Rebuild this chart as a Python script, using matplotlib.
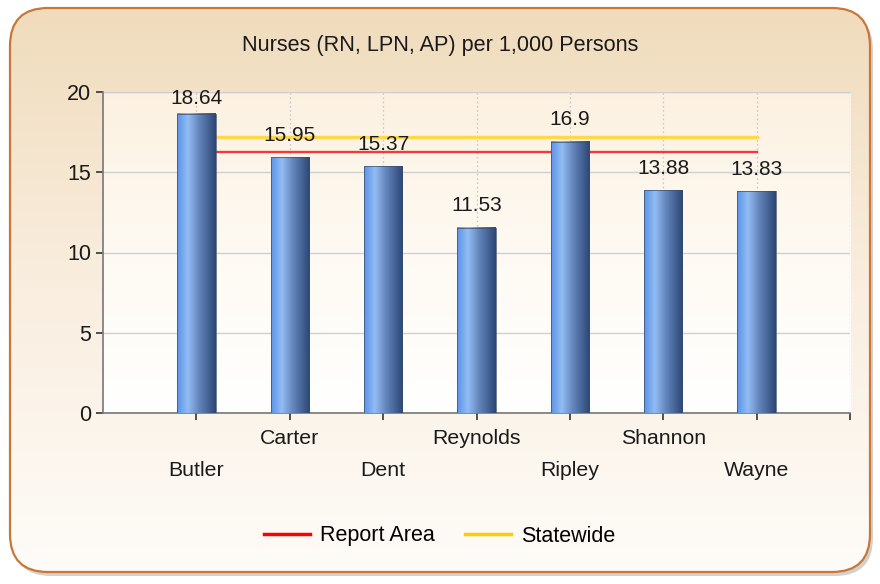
import numpy as np
import matplotlib
matplotlib.use("Agg")
import matplotlib.pyplot as plt
from matplotlib.patches import FancyBboxPatch
from matplotlib.colors import LinearSegmentedColormap
from matplotlib.lines import Line2D

plt.rcParams['font.family'] = ['Liberation Sans', 'DejaVu Sans']

# county values and reference levels
counties = ['Butler', 'Carter', 'Dent', 'Reynolds', 'Ripley', 'Shannon', 'Wayne']
nurses = [18.64, 15.95, 15.37, 11.53, 16.9, 13.88, 13.83]
value_labels = ['18.64', '15.95', '15.37', '11.53', '16.9', '13.88', '13.83']
report_area = 16.27
statewide = 17.2
title = 'Nurses (RN, LPN, AP) per 1,000 Persons'

W, H = 880, 584
fig = plt.figure(figsize=(W / 100, H / 100), dpi=100)
fig.patch.set_facecolor('white')

# outer rounded panel with a soft tan-to-white gradient
bg = fig.add_axes([0, 0, 1, 1], zorder=-5)
bg.set_xlim(0, W)
bg.set_ylim(H, 0)
bg.axis('off')

shadow = FancyBboxPatch((13, 12), W - 20, H - 20,
                        boxstyle='round,pad=0,rounding_size=38',
                        fc='#c4bcb4', ec='none', alpha=0.7, zorder=0)
bg.add_patch(shadow)
panel = FancyBboxPatch((10, 8), W - 20, H - 20,
                       boxstyle='round,pad=0,rounding_size=38',
                       fc='none', ec='#c8773a', lw=1.6, zorder=3)
bg.add_patch(panel)
panel_cmap = LinearSegmentedColormap.from_list('panel', ['#f0dcbc', '#f9eedf', '#fefcf9'])
grad = np.linspace(0, 1, 256).reshape(-1, 1)
im = bg.imshow(grad, cmap=panel_cmap, aspect='auto', extent=[10, W - 10, H - 12, 8], zorder=2)
im.set_clip_path(panel)

# plot area
ax = fig.add_axes([103 / W, 1 - 413 / H, (850 - 103) / W, (413 - 92) / H])
ax.set_facecolor('none')
plot_cmap = LinearSegmentedColormap.from_list('plot', ['#fcf1e1', '#fefaf3', '#ffffff'])
ax.imshow(grad, cmap=plot_cmap, aspect='auto', extent=[0, 8, 0, 20], zorder=0)

x = np.arange(1, len(counties) + 1)
width = 0.41

ax.set_yticks([0, 5, 10, 15, 20])
ax.grid(axis='y', color='#d0d0d0', lw=1, zorder=1)
for xv in list(x) + [8]:
    ax.axvline(xv, color='#c4c4c4', lw=0.9, ls=(0, (1.2, 2.2)), zorder=1)

# reference lines drawn behind the bars
ax.plot([x[0], x[-1]], [statewide, statewide], color='#ffd84a', lw=2.4, zorder=2)
ax.plot([x[0], x[-1]], [report_area, report_area], color='#f53838', lw=1.7, zorder=2)

bar_cmap = LinearSegmentedColormap.from_list(
    'bar', [(0, '#5a93e8'), (0.28, '#92bcf3'), (0.55, '#6688bf'), (1, '#2b4674')])
hgrad = np.linspace(0, 1, 256).reshape(1, -1)
bars = ax.bar(x, nurses, width=width, color='none', edgecolor='#3a4d6a', lw=0.5, zorder=4)
for b, v, lab in zip(bars, nurses, value_labels):
    ax.imshow(hgrad, cmap=bar_cmap, aspect='auto',
              extent=[b.get_x(), b.get_x() + b.get_width(), 0, v], zorder=3)
    pad = 4 if v > 18 else 9
    ax.annotate(lab, (b.get_x() + b.get_width() / 2, v), xytext=(0, pad),
                textcoords='offset points', ha='center', va='bottom',
                fontsize=15, color='#1a1a1a', zorder=5)

ax.set_xlim(0, 8)
ax.set_ylim(0, 20)

# staggered category labels
ax.set_xticks(list(x) + [8])
ax.set_xticklabels([])
for i, (xv, name) in enumerate(zip(x, counties)):
    yoff = -25 / 321 if i % 2 == 1 else -57 / 321
    ax.text(xv, yoff, name, transform=ax.get_xaxis_transform(), ha='center',
            va='center', fontsize=15.3, color='#1a1a1a')

ax.tick_params(axis='both', length=5, width=1.2, color='#333333', labelsize=15.5,
               labelcolor='#1a1a1a')
for s in ['top', 'right']:
    ax.spines[s].set_visible(False)
for s in ['left', 'bottom']:
    ax.spines[s].set_color('#777777')
    ax.spines[s].set_linewidth(1.2)
ax.plot([0, 8], [20, 20], color='#d4d8e0', lw=1, zorder=1, clip_on=False)

fig.text(0.5, 1 - 46 / H, title, ha='center', va='center', fontsize=15.6, color='#1a1a1a')

handles = [Line2D([], [], color='#ff0000', lw=2.5),
           Line2D([], [], color='#ffcc00', lw=2.5)]
fig.legend(handles, ['Report Area', 'Statewide'], loc='center',
           bbox_to_anchor=(0.5, 1 - 536 / H), ncol=2, frameon=False,
           fontsize=15.5, handlelength=2.1, columnspacing=1.4, handletextpad=0.5)

fig.savefig('out.png', dpi=100)
